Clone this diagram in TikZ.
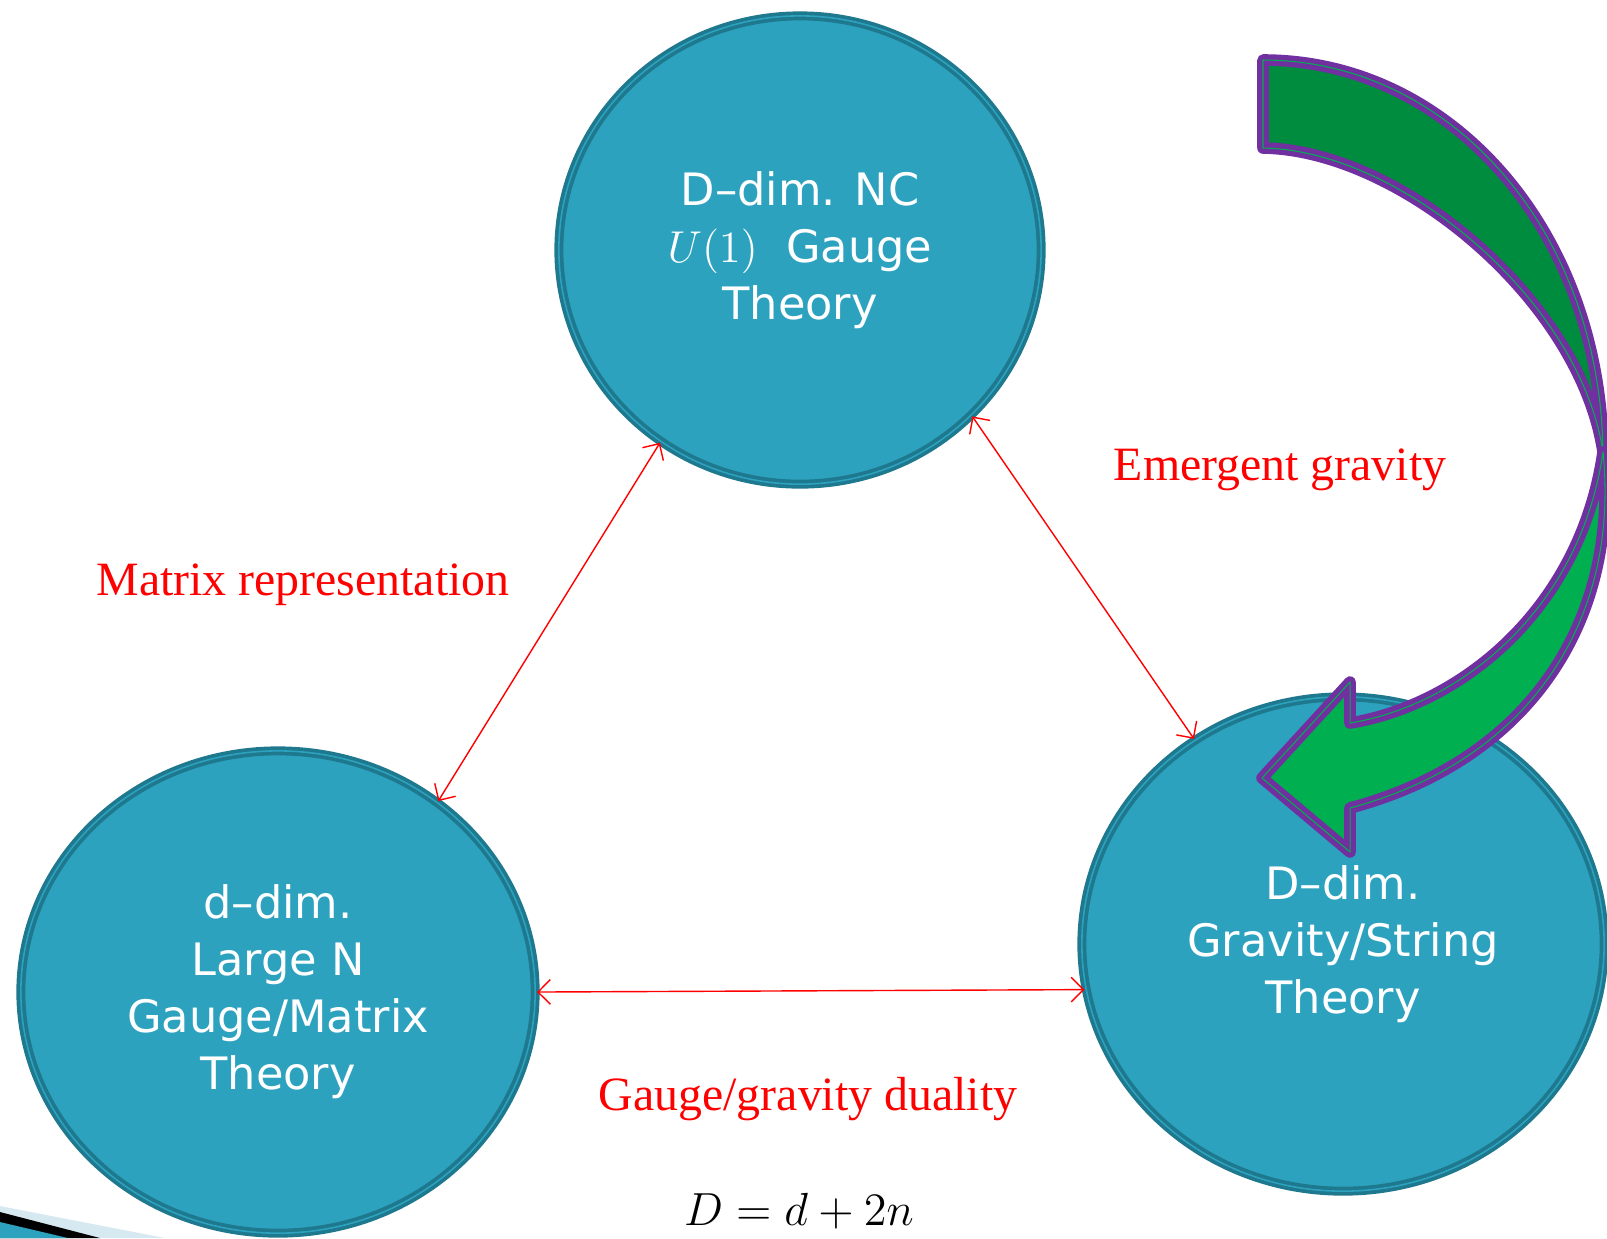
\documentclass[tikz,border=0pt]{standalone}
\usepackage{fix-cm}
\usepackage{fontspec}
\setmainfont{Liberation Serif}
\newfontfamily\circfont{DejaVu Sans}
\usetikzlibrary{arrows.meta,shapes.geometric,positioning}
\definecolor{circfill}{RGB}{45,162,191}
\definecolor{circring}{RGB}{30,120,142}
\definecolor{darkgrn}{RGB}{0,140,62}
\definecolor{lightgrn}{RGB}{0,175,80}
\definecolor{arrpurple}{RGB}{112,48,160}
\definecolor{swoosh}{RGB}{214,232,240}

\begin{document}
\begin{tikzpicture}[x=0.01cm, y=-0.01cm, >={Straight Barb[length=3.5pt,width=7pt]},
  theory/.style={ellipse, draw=circring, fill=circfill, line width=1.05pt, double=circfill, double distance=0.45pt, text=white, align=center, inner sep=0pt, font=\circfont\fontsize{12.7}{16.2}\selectfont},
  link/.style={<->, red, line width=0.4pt},
  lab/.style={text=red, font=\fontsize{13.6}{16}\selectfont},
  curvarrow/.style={draw=arrpurple, line width=1.5pt, double=lightgrn, double distance=0.3pt, line join=round}]
\useasboundingbox (0,0) rectangle (1607,1238);
\fill[swoosh] (0,1206) -- (165,1238) -- (0,1238) -- cycle;
\fill[black] (0,1212) -- (100,1238) -- (0,1238) -- cycle;
\fill[circfill] (0,1222) -- (68,1238) -- (0,1238) -- cycle;
\node[theory, minimum width=4.82cm, minimum height=4.68cm] (NC) at (800,250) {D–dim. NC\\$U(1)$\ \ Gauge\\Theory};
\node[theory, minimum width=5.14cm, minimum height=4.82cm] (MT) at (278,992) {d–dim.\\Large N\\Gauge/Matrix\\Theory};
\node[theory, minimum width=5.22cm, minimum height=4.94cm] (GR) at (1343,944) {D–dim.\\Gravity/String\\Theory};
\draw[link] (NC.-126) -- (MT.50);
\draw[link] (NC.-44) -- (GR.126);
\draw[link] (MT.east) -- (GR.190.6);
\node[lab] (mrep) at (303,585) {Matrix representation};
\node[lab] (emg) at (1280,470) {Emergent gravity};
\node[lab] (ggd) at (808,1099) {Gauge/gravity duality};
\node[font=\fontsize{13.2}{16}\selectfont] (dim) at (799,1211) {$D = d + 2n$};
\filldraw[curvarrow, fill=darkgrn] (1263,60) .. controls (1450,60) and (1600,230) .. (1603,452)
  .. controls (1580,300) and (1400,150) .. (1263,148) -- cycle;
\filldraw[curvarrow, fill=lightgrn] (1603,452) .. controls (1620,620) and (1530,760) .. (1350,808)
  -- (1350,852) -- (1262,778) -- (1350,682) -- (1350,723)
  .. controls (1460,705) and (1580,610) .. (1603,452) -- cycle;
\end{tikzpicture}
\end{document}
